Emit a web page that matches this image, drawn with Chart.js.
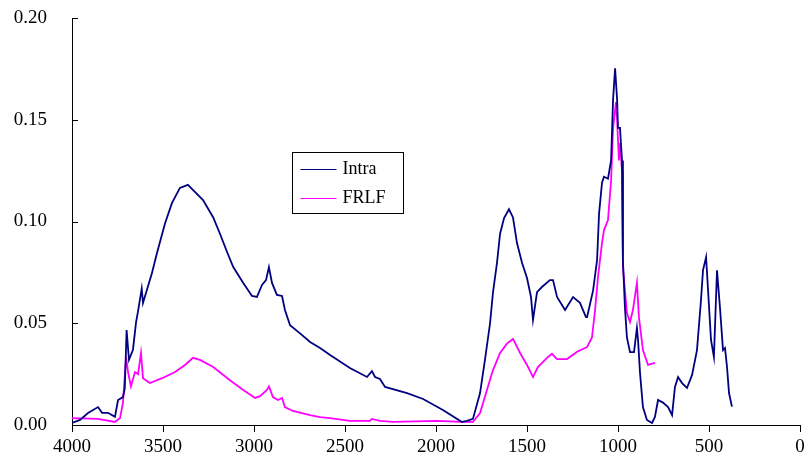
<!DOCTYPE html>
<html>
<head>
<meta charset="utf-8">
<script src="https://cdn.jsdelivr.net/npm/chart.js@4.4.1/dist/chart.umd.min.js"></script>
<style>
  html, body { margin: 0; padding: 0; background: #fff; }
  #wrap { width: 809px; height: 464px; }
</style>
</head>
<body>
<div id="wrap"><canvas id="spectrum"></canvas></div>
<script>
// wavenumbers (cm-1) and absorbance
var intraWn = [4000, 3956, 3912, 3857, 3835, 3802, 3764, 3747, 3720, 3710, 3700, 3687, 3665, 3648, 3637, 3617, 3610,
  3561, 3533, 3489, 3451, 3407, 3363, 3352, 3280, 3224, 3187, 3148, 3114, 3059, 3011, 2984, 2956, 2934, 2918,
  2901, 2874, 2846, 2830, 2802, 2747, 2692, 2637, 2582, 2473, 2379, 2352, 2335, 2308, 2280, 2159, 2071, 1962,
  1857, 1830, 1797, 1758, 1731, 1703, 1687, 1665, 1648, 1626, 1599, 1577, 1555, 1527, 1500, 1478, 1467, 1445,
  1418, 1374, 1357, 1335, 1291, 1247, 1209, 1176, 1170, 1137, 1115, 1104, 1088, 1077, 1055, 1038, 1027, 1016,
  1005, 1000, 989, 978, 973, 962, 951, 934, 912, 896, 890, 879, 863, 841, 813, 797, 780, 753, 725, 703, 687,
  670, 648, 621, 593, 566, 544, 533, 516, 505, 489, 473, 456, 440, 423, 412, 401, 390, 374];
var intraAbs = [0.001, 0.0025, 0.0059, 0.0088, 0.006, 0.006, 0.004, 0.0123, 0.0137, 0.018, 0.0467, 0.032, 0.037, 0.0506, 0.056, 0.067, 0.060,
  0.0746, 0.0845, 0.099, 0.109, 0.1165, 0.118, 0.117, 0.1105, 0.102, 0.094, 0.085, 0.0776, 0.0698, 0.0634, 0.0629, 0.0688, 0.0712, 0.0776,
  0.0698, 0.0639, 0.0634, 0.0565, 0.049, 0.045, 0.0408, 0.0378, 0.0344, 0.028, 0.0236, 0.0265, 0.0236, 0.0226, 0.0187, 0.0157, 0.0128, 0.0074,
  0.0015, 0.002, 0.003, 0.0157, 0.032, 0.050, 0.065, 0.0796, 0.094, 0.1017, 0.106, 0.102, 0.0894, 0.0796, 0.0722, 0.0629, 0.0516, 0.0653,
  0.0678, 0.0712, 0.0712, 0.0629, 0.0565, 0.0629, 0.060, 0.053, 0.053, 0.066, 0.081, 0.104, 0.119, 0.122, 0.121, 0.130, 0.160, 0.1753,
  0.160, 0.146, 0.146, 0.130, 0.081, 0.058, 0.043, 0.0358, 0.0358, 0.0477, 0.042, 0.0255, 0.0088, 0.0025, 0.001, 0.004, 0.0123, 0.011, 0.0088, 0.0049, 0.0187,
  0.0236, 0.0206, 0.0182, 0.0246, 0.0368, 0.0614, 0.076, 0.0825, 0.066, 0.0418, 0.0334, 0.076, 0.058, 0.0368, 0.0378, 0.0285, 0.0157, 0.009];

var frlfWn = [4000, 3857, 3764, 3736, 3720, 3703, 3692, 3676, 3654, 3637, 3621, 3610, 3572, 3505, 3434, 3379, 3335,
  3297, 3224, 3132, 3059, 2994, 2967, 2929, 2918, 2896, 2868, 2846, 2830, 2786, 2692, 2637, 2582, 2473, 2363,
  2352, 2308, 2236, 1995, 1857, 1797, 1758, 1720, 1687, 1648, 1610, 1577, 1538, 1500, 1467, 1440, 1390, 1363,
  1335, 1280, 1225, 1170, 1143, 1126, 1110, 1088, 1077, 1055, 1038, 1027, 1011, 1005, 995, 989, 978, 973, 951,
  934, 918, 896, 885, 863, 835, 797];
var frlfAbs = [0.0034, 0.003, 0.0015, 0.0034, 0.011, 0.0334, 0.026, 0.019, 0.026, 0.025, 0.0354, 0.023, 0.0206, 0.023, 0.026, 0.0295, 0.033,
  0.032, 0.0285, 0.022, 0.0172, 0.0133, 0.0142, 0.0172, 0.019, 0.0137, 0.0123, 0.0133, 0.0088, 0.0069, 0.0049, 0.0039, 0.0034, 0.002, 0.002,
  0.003, 0.002, 0.0015, 0.002, 0.0015, 0.0015, 0.0059, 0.0172, 0.027, 0.0354, 0.040, 0.0423, 0.0354, 0.0295, 0.0236, 0.0285, 0.033, 0.035,
  0.0324, 0.0324, 0.036, 0.0383, 0.043, 0.0565, 0.0727, 0.0894, 0.0958, 0.1007, 0.120, 0.146, 0.1587, 0.150, 0.130, 0.1385, 0.125, 0.0776, 0.055,
  0.0506, 0.0565, 0.070, 0.053, 0.0368, 0.0295, 0.0305];

var xTicks = [4000, 3500, 3000, 2500, 2000, 1500, 1000, 500, 0];
var yTicks = [0.00, 0.05, 0.10, 0.15, 0.20];

function toPoints(xs, ys) {
  var pts = [];
  for (var i = 0; i < xs.length; i++) pts.push({ x: xs[i], y: ys[i] });
  return pts;
}

var serif = "'Liberation Serif', 'Times New Roman', serif";

// y ticks in this chart point into the plot area
var innerTicks = {
  id: 'innerTicks',
  afterDraw: function(chart) {
    var ctx = chart.ctx, y = chart.scales.y, left = chart.chartArea.left;
    ctx.save();
    ctx.strokeStyle = '#000';
    ctx.lineWidth = 1;
    yTicks.forEach(function(v) {
      var py = Math.round(y.getPixelForValue(v)) + 0.5;
      ctx.beginPath();
      ctx.moveTo(left, py);
      ctx.lineTo(left + 6, py);
      ctx.stroke();
    });
    ctx.restore();
  }
};

// boxed legend inside the plot
var boxLegend = {
  id: 'boxLegend',
  afterDraw: function(chart) {
    var ctx = chart.ctx;
    var bx = 292.5, by = 152.5, bw = 111, bh = 61;
    ctx.save();
    ctx.fillStyle = '#fff';
    ctx.fillRect(bx, by, bw, bh);
    ctx.strokeStyle = '#000';
    ctx.lineWidth = 1;
    ctx.strokeRect(bx, by, bw, bh);
    ctx.font = '18px ' + serif;
    ctx.textBaseline = 'middle';
    chart.data.datasets.forEach(function(ds, i) {
      var ly = by + 17 + i * 29;
      ctx.strokeStyle = ds.borderColor;
      ctx.lineWidth = 1;
      ctx.beginPath();
      ctx.moveTo(bx + 8, ly);
      ctx.lineTo(bx + 44, ly);
      ctx.stroke();
      ctx.fillStyle = '#000';
      ctx.fillText(ds.label, bx + 50, ly);
    });
    ctx.restore();
  }
};

new Chart(document.getElementById('spectrum'), {
  type: 'line',
  data: {
    datasets: [
      {
        label: 'Intra',
        data: toPoints(intraWn, intraAbs),
        borderColor: '#000080',
        borderWidth: 1.8,
        pointRadius: 0,
        tension: 0,
        fill: false
      },
      {
        label: 'FRLF',
        data: toPoints(frlfWn, frlfAbs),
        borderColor: '#ff00ff',
        borderWidth: 1.8,
        pointRadius: 0,
        tension: 0,
        fill: false
      }
    ]
  },
  options: {
    responsive: true,
    maintainAspectRatio: false,
    animation: false,
    layout: { padding: { left: 0, right: 9, top: 18, bottom: 0 } },
    plugins: {
      legend: { display: false },
      tooltip: { enabled: false }
    },
    scales: {
      x: {
        type: 'linear',
        reverse: true,
        min: 0,
        max: 4000,
        afterFit: function(scale) { scale.height = 39; },
        afterBuildTicks: function(scale) { scale.ticks = xTicks.map(function(v) { return { value: v }; }); },
        ticks: {
          color: '#000',
          font: { family: serif, size: 19 },
          padding: 4,
          maxRotation: 0,
          callback: function(v) { return String(v); }
        },
        grid: { drawOnChartArea: false, drawTicks: true, tickLength: 7, color: '#000' },
        border: { color: '#000', width: 1 }
      },
      y: {
        min: 0,
        max: 0.2,
        afterFit: function(scale) { scale.width = 72; },
        afterBuildTicks: function(scale) { scale.ticks = yTicks.map(function(v) { return { value: v }; }); },
        ticks: {
          color: '#000',
          font: { family: serif, size: 19 },
          padding: 0,
          callback: function(v) { return v.toFixed(2); }
        },
        // invisible outer tick length just spaces the labels off the axis
        grid: { drawOnChartArea: false, drawTicks: true, tickLength: 25, tickColor: 'rgba(0,0,0,0)', color: '#000' },
        border: { color: '#000', width: 1 }
      }
    }
  },
  plugins: [innerTicks, boxLegend]
});
</script>
</body>
</html>
